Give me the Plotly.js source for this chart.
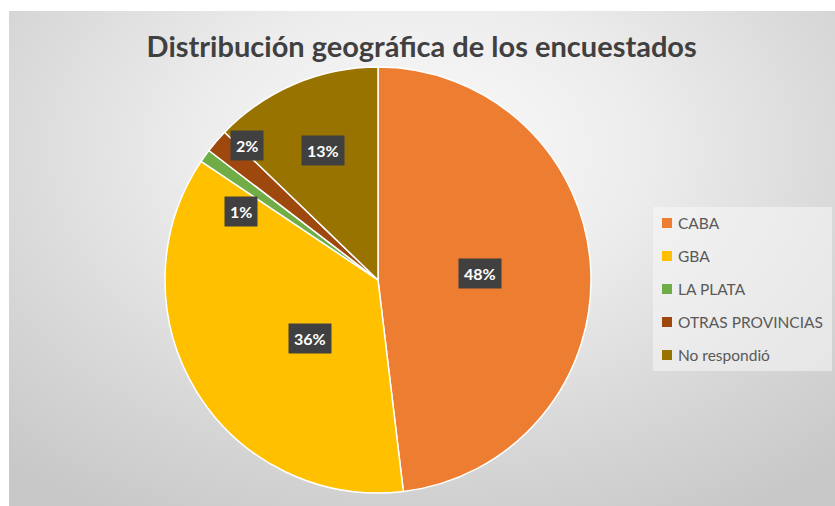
<!DOCTYPE html>
<html>
<head>
<meta charset="utf-8">
<script src="https://cdn.plot.ly/plotly-3.0.1.min.js"></script>
<style>
  html, body { margin: 0; padding: 0; background: #ffffff; }
  #wrap { position: relative; width: 835px; height: 506px; overflow: hidden; }
  #bg { position: absolute; left: 9px; top: 11px; right: 0; bottom: 0;
        background: radial-gradient(ellipse 75% 85% at 50% 28%, #fafafa 0%, #ededed 35%, #d8d8d8 70%, #c8c8c8 100%); }
  #chart { position: absolute; left: 0; top: 0; width: 835px; height: 506px; }
</style>
</head>
<body>
<div id="wrap"><div id="bg"></div><div id="chart"></div></div>
<script>
// ---- data ----
const categories = ['CABA', 'GBA', 'LA PLATA', 'OTRAS PROVINCIAS', 'No respondió'];
const values = [48.1, 36.3, 1.0, 1.8, 12.8];
const sliceColors = ['#ED7D31', '#FFC000', '#70AD47', '#9E480E', '#997300'];
const chartTitle = 'Distribución geográfica de los encuestados';

// ---- layout constants ----
const W = 835, H = 506;
const pieDomain = { x: [0.1976, 0.7078], y: [0.0257, 0.8676] };
// radial fraction of data-label placement per slice (Excel "best fit" look)
const labelRadius = [0.48, 0.42, 0.72, 0.88, 0.66];
const labelAngleShift = [0, -9, -9, 5, 0];

const total = values.reduce((a, b) => a + b, 0);
const cx = W * (pieDomain.x[0] + pieDomain.x[1]) / 2;
const cy = H * (1 - (pieDomain.y[0] + pieDomain.y[1]) / 2);
const r = Math.min(W * (pieDomain.x[1] - pieDomain.x[0]), H * (pieDomain.y[1] - pieDomain.y[0])) / 2;

const annotations = [];
let cum = 0;
values.forEach((v, i) => {
  const mid = ((cum + v / 2) / total * 360 + labelAngleShift[i]) * Math.PI / 180;
  cum += v;
  const px = cx + r * labelRadius[i] * Math.sin(mid);
  const py = cy - r * labelRadius[i] * Math.cos(mid);
  annotations.push({
    x: px / W, y: 1 - py / H, xref: 'paper', yref: 'paper',
    text: '<b>' + Math.round(v / total * 100) + '%</b>',
    showarrow: false, xanchor: 'center', yanchor: 'middle',
    font: { family: 'Lato, "Open Sans", sans-serif', size: 16, color: '#ffffff' },
    bgcolor: '#404040', borderpad: 5
  });
});

// custom legend (Excel-like spacing)
const legX = 662, legTop = 223, legStep = 33;
const shapes = [{
  type: 'rect', xref: 'paper', yref: 'paper',
  x0: 653 / W, x1: 832 / W, y0: 1 - 371 / H, y1: 1 - 207 / H,
  fillcolor: 'rgba(248,248,248,0.55)', line: { width: 0 }, layer: 'below'
}];
categories.forEach((c, i) => {
  const yc = legTop + i * legStep;
  shapes.push({
    type: 'rect', xref: 'paper', yref: 'paper',
    x0: legX / W, x1: (legX + 10) / W, y0: 1 - (yc + 5) / H, y1: 1 - (yc - 5) / H,
    fillcolor: sliceColors[i], line: { width: 0 }
  });
  annotations.push({
    x: (legX + 14) / W, y: 1 - yc / H, xref: 'paper', yref: 'paper',
    text: c, showarrow: false, xanchor: 'left', yanchor: 'middle',
    font: { family: 'Lato, "Open Sans", sans-serif', size: 15.5, color: '#595959' }
  });
});

const trace = {
  type: 'pie',
  labels: categories,
  values: values,
  sort: false,
  direction: 'clockwise',
  rotation: 0,
  domain: pieDomain,
  marker: { colors: sliceColors, line: { color: '#ffffff', width: 1.5 } },
  textinfo: 'none',
  hoverinfo: 'label+percent',
  showlegend: false
};

const layout = {
  width: W, height: H,
  margin: { l: 0, r: 0, t: 0, b: 0 },
  paper_bgcolor: 'rgba(0,0,0,0)',
  plot_bgcolor: 'rgba(0,0,0,0)',
  title: {
    text: chartTitle,
    x: 0.505, xanchor: 'center', xref: 'paper',
    y: 1 - 47 / H, yanchor: 'middle', yref: 'paper',
    font: { family: 'Lato, "Open Sans", sans-serif', size: 29, color: '#404040', weight: 'bold' }
  },
  showlegend: false,
  annotations: annotations,
  shapes: shapes
};

Plotly.newPlot('chart', [trace], layout, { displayModeBar: false, staticPlot: true });
</script>
</body>
</html>
